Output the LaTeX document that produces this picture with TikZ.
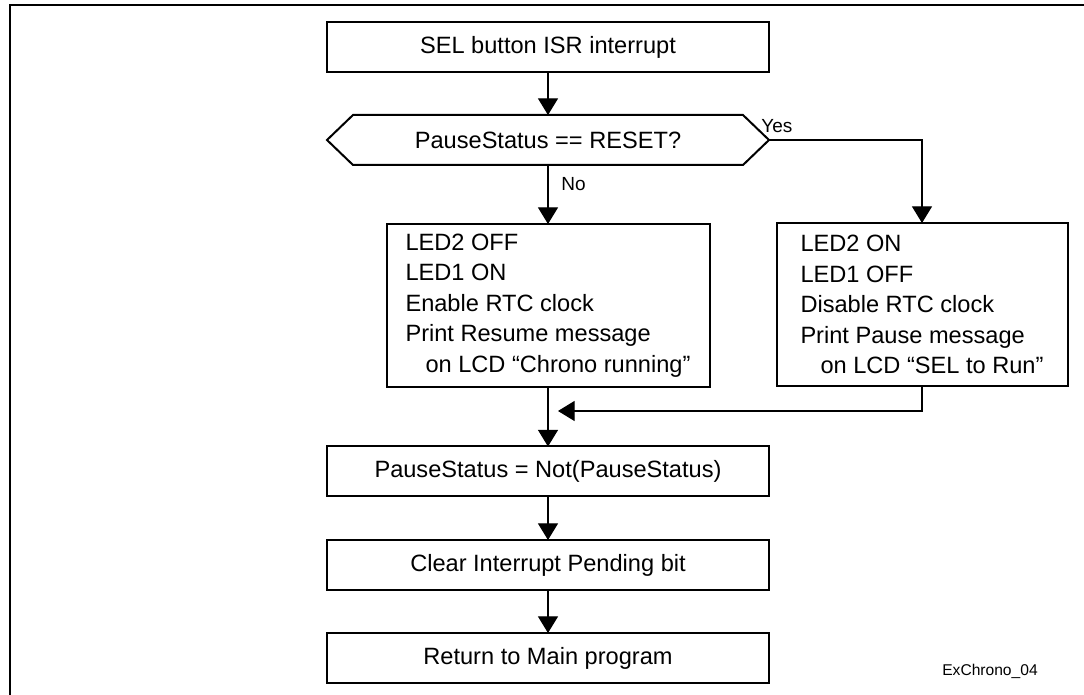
\documentclass[tikz,border=0pt]{standalone}
\usepackage{fontspec}
\setmainfont{Liberation Sans}
\usetikzlibrary{arrows.meta, positioning, calc}

\begin{document}
\begin{tikzpicture}[x=0.5pt, y=-0.5pt,
    every node/.style={font=\fontsize{11.8}{14.5}\selectfont},
    stepbox/.style={draw, line width=1pt, minimum width=221pt, minimum height=25pt, inner sep=0pt, outer sep=0pt},
    listbox/.style={draw, line width=1pt, minimum height=81.5pt, inner sep=0pt, outer sep=0pt, align=left, font=\fontsize{11.8}{15.3}\selectfont},
    flow/.style={-{Triangle[length=8.3pt,width=10pt]}, line width=0.55pt},
    lbl/.style={font=\fontsize{9.5}{11}\selectfont, inner sep=0pt}]

        \useasboundingbox (0,0) rectangle (1084,695);

        % Khung ngoài
        \draw[line width=1.3pt] (10,695) -- (10,5) -- (1084,5);

        % Các bước chính
        \node[stepbox] (isr) at (548,47) {SEL button ISR interrupt};
        \node[stepbox, draw=none] (test) at (548,140) {PauseStatus == RESET?};
        \draw[line width=1pt] (test.west) -- ([xshift=13pt]test.north west) -- ([xshift=-13pt]test.north east) -- (test.east)
            -- ([xshift=-13pt]test.south east) -- ([xshift=13pt]test.south west) -- cycle; % Hình lục giác

        % Hai nhánh
        \node[listbox, minimum width=161.5pt] (resume) at (548,305.5) {LED2 OFF\\LED1 ON\\Enable RTC clock\\Print Resume message\\\hspace*{10pt}on LCD “Chrono running”};
        \node[listbox, minimum width=145.5pt] (pause) at (922,304.5) {LED2 ON\\LED1 OFF\\Disable RTC clock\\Print Pause message\\\hspace*{10pt}on LCD “SEL to Run”};

        \node[stepbox] (toggle) at (548,471.5) {PauseStatus = Not(PauseStatus)};
        \node[stepbox] (clear) at (548,565) {Clear Interrupt Pending bit};
        \node[stepbox] (ret) at (548,658) {Return to Main program};

        % Mũi tên
        \draw[flow] (isr) -- (test);
        \draw[flow] (test) -- (resume);
        \node[lbl, anchor=west] (no) at (561,184) {No};
        \draw[flow] (test.east) -| (pause.north);
        \node[lbl, anchor=west] (yes) at (761,126) {Yes};
        \coordinate (merge) at (548,411);
        \draw[flow] (resume) -- (toggle);
        \draw[flow, shorten >=5pt] (pause.south) |- (merge);
        \draw[flow] (toggle) -- (clear);
        \draw[flow] (clear) -- (ret);

        % Nhãn hình
        \node[font=\fontsize{7.8}{9}\selectfont] (tag) at (990,671) {ExChrono\_04};

\end{tikzpicture}
\end{document}
